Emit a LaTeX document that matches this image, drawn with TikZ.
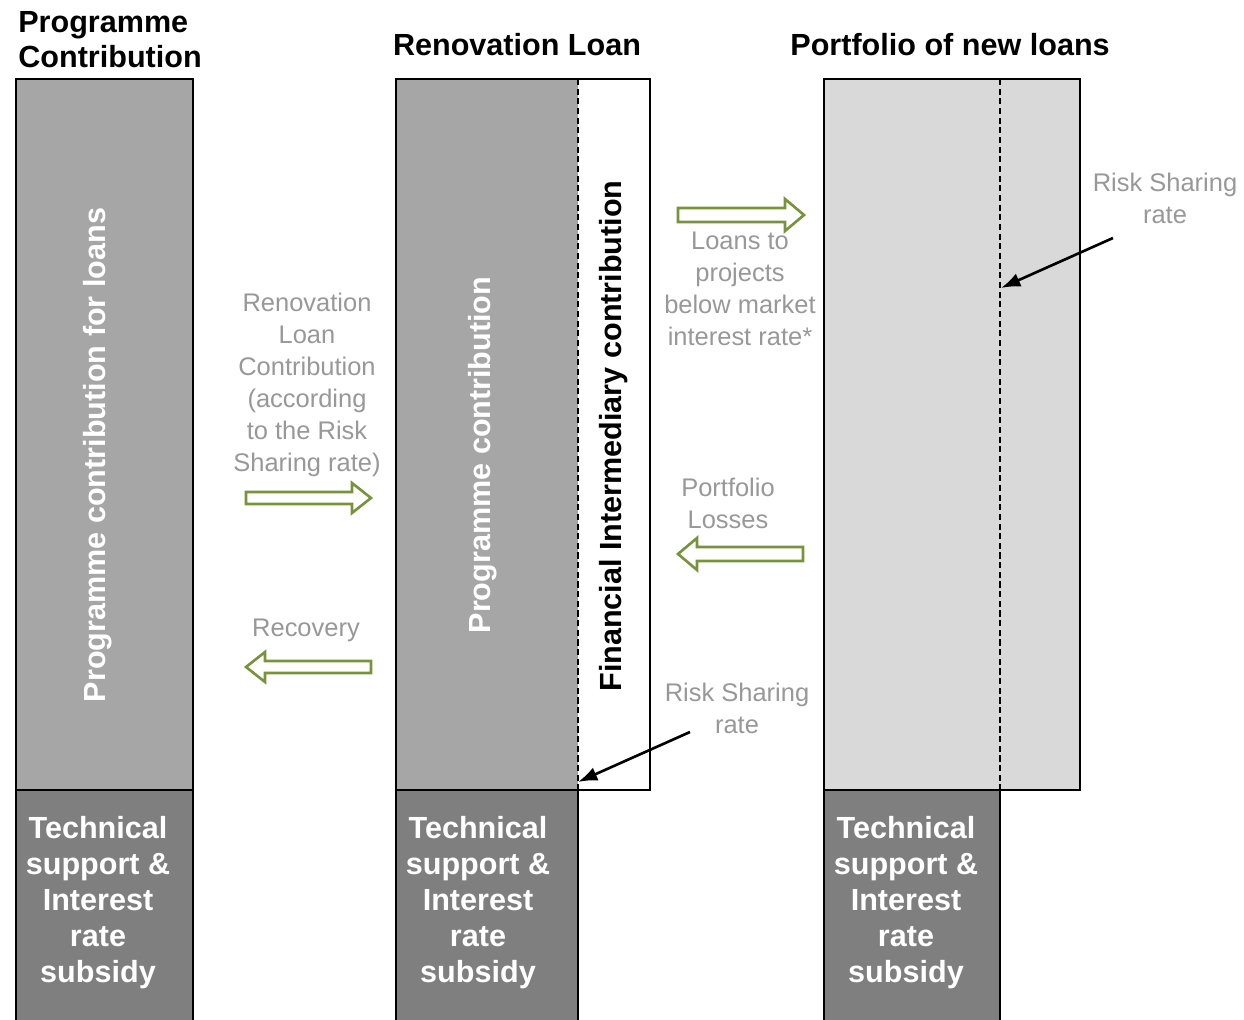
\documentclass[tikz,border=0pt]{standalone}
\usepackage{fontspec}
\setmainfont{Liberation Sans}
\usetikzlibrary{arrows.meta}

\definecolor{barmid}{HTML}{A6A6A6}
\definecolor{bardark}{HTML}{7F7F7F}
\definecolor{barlight}{HTML}{D9D9D9}
\definecolor{flowgreen}{HTML}{77933C}
\definecolor{notegray}{HTML}{989898}

\begin{document}
\begin{tikzpicture}[x=0.02cm, y=-0.02cm]
\tikzset{ >={Latex[length=11pt,width=8pt]}, 
  heading/.style={font=\fontsize{17.4}{20}\selectfont\bfseries, inner sep=0pt},
  barlabel/.style={font=\fontsize{17.4}{20.5}\selectfont\bfseries, white, align=center, inner sep=0pt},
  note/.style={font=\fontsize{14.5}{18.2}\selectfont, notegray, align=center, inner sep=0pt},
  frame/.style={draw=black, line width=1.2pt},
  split/.style={line width=1.3pt, dash pattern=on 3.5pt off 2pt},
  flowline/.style={draw=flowgreen, line width=1.5pt, fill=white, line join=miter},
}
\useasboundingbox (0,0) rectangle (1244,1020);
%\draw [lightgray, dashed](0,0) grid [step=100] (1244,1020);

% bars
\fill [barmid]   (16,79)  rectangle (193,790);
\fill [bardark]  (16,790) rectangle (193,1020);
\draw [frame]    (16,1030) -- (16,79) -- (193,79) -- (193,1030);
\draw [frame]    (16,790) -- (193,790);

\fill [barmid]   (396,79)  rectangle (578,790);
\fill [white]    (578,79)  rectangle (650,790);
\fill [bardark]  (396,790) rectangle (578,1020);
\draw [frame]    (396,79) rectangle (650,790);
\draw [frame]    (396,790) -- (396,1030);
\draw [frame]    (578,790) -- (578,1030);
\draw [split]    (578,79) -- (578,790);

\fill [barlight] (824,79)  rectangle (1080,790);
\fill [bardark]  (824,790) rectangle (1000,1020);
\draw [frame]    (824,79) rectangle (1080,790);
\draw [frame]    (824,790) -- (824,1030);
\draw [frame]    (1000,790) -- (1000,1030);
\draw [split]    (1000,79) -- (1000,790);

% headings
\node [heading, anchor=west, align=left] (HPC) at (18,40) {Programme\\Contribution};
\node [heading] (HRL) at (517,45) {Renovation Loan};
\node [heading] (HPF) at (950,45) {Portfolio of new loans};

% rotated bar texts
\node [barlabel, rotate=90] (PCL) at (98,455) {Programme contribution for loans};
\node [barlabel, rotate=90] (PCR) at (483,455) {Programme contribution};
\node [barlabel, black, rotate=90] (FIC) at (614,436) {Financial Intermediary contribution};

\node [barlabel] (TS1) at (98,903)  {Technical\\support \&\\Interest\\rate\\subsidy};
\node [barlabel] (TS2) at (478,903) {Technical\\support \&\\Interest\\rate\\subsidy};
\node [barlabel] (TS3) at (906,903) {Technical\\support \&\\Interest\\rate\\subsidy};

% flow notes
\node [note] (RLC) at (307,385) {Renovation\\Loan\\Contribution\\(according\\to the Risk\\Sharing rate)};
\node [note] (REC) at (306,630) {Recovery};
\node [note] (LTP) at (740,289) {Loans to\\projects\\below market\\interest rate*};
\node [note] (PFL) at (728,503) {Portfolio\\Losses};
\node [note] (RS1) at (737,708) {Risk Sharing\\rate};
\node [note] (RS2) at (1165,198) {Risk Sharing\\rate};

% green block arrows
\draw [flowline] (246,492) -- (352,492) -- (352,483) -- (371,498) -- (352,513) -- (352,504) -- (246,504) -- cycle;
\draw [flowline] (371,661) -- (265,661) -- (265,652) -- (246,667) -- (265,682) -- (265,673) -- (371,673) -- cycle;
\draw [flowline] (678,208) -- (785,208) -- (785,199) -- (804,215) -- (785,231) -- (785,222) -- (678,222) -- cycle;
\draw [flowline] (803,547) -- (697,547) -- (697,538) -- (678,554) -- (697,570) -- (697,561) -- (803,561) -- cycle;

% pointers
\coordinate (P1) at (690,732);
\coordinate (D1) at (578,782);
\coordinate (P2) at (1113,238);
\coordinate (D2) at (1001,288);
\draw [->, line width=1.5pt] (P1) -- (D1);
\draw [->, line width=1.5pt] (P2) -- (D2);

\end{tikzpicture}
\end{document}
